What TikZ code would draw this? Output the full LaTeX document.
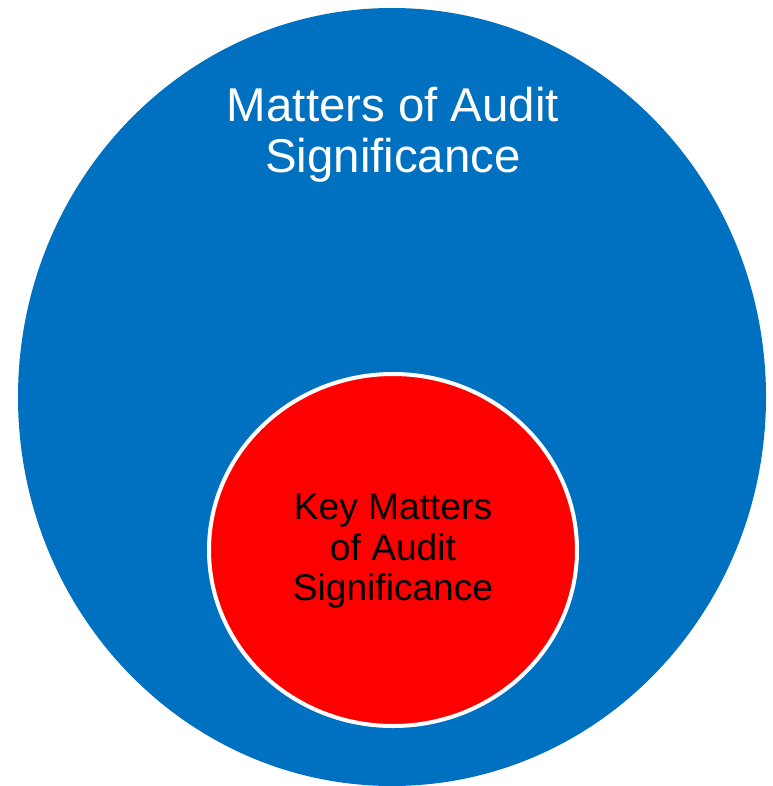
\documentclass[tikz,border=0pt]{standalone}
\usepackage{fontspec}
\setmainfont{Liberation Sans}
\definecolor{outerblue}{RGB}{0,112,192}
\definecolor{innerred}{RGB}{255,0,0}
\tikzset{
  outerset/.style={fill=outerblue, draw=none},
  innerset/.style={fill=innerred, draw=white, line width=4bp},
  outerlabel/.style={text=white, align=center, inner sep=0pt, font=\fontsize{47.6}{51}\selectfont},
  innerlabel/.style={text=black, align=center, inner sep=0pt, font=\fontsize{37.3}{40.5}\selectfont}
}
\begin{document}
\begin{tikzpicture}[x=1bp,y=-1bp]
\useasboundingbox (0,0) rectangle (773,786);
\fill[outerset] (392,397) ellipse [x radius=374, y radius=389];
\filldraw[innerset] (393,550) ellipse [x radius=184, y radius=176];
\node[outerlabel, anchor=north] (outertext) at (393,87) {Matters of Audit\\Significance};
\node[innerlabel, anchor=north] (innertext) at (393,494) {Key Matters\\of Audit\\Significance};
\end{tikzpicture}
\end{document}
